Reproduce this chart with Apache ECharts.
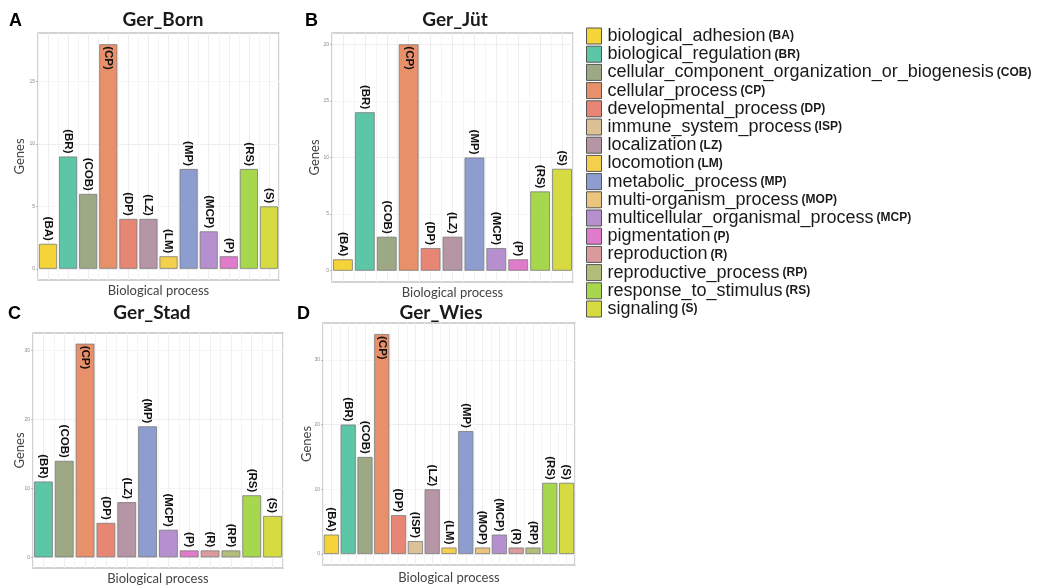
<!DOCTYPE html>
<html>
<head>
<meta charset="utf-8">
<script src="https://cdn.jsdelivr.net/npm/echarts@6/dist/echarts.min.js"></script>
<style>html,body{margin:0;padding:0;background:#fff;}#c{width:1043px;height:586px;}</style>
</head>
<body>
<div id="c"></div>
<script>
// Legend categories
const abbrs = ['BA','BR','COB','CP','DP','ISP','LZ','LM','MP','MOP','MCP','P','R','RP','RS','S'];
const fullNames = ['biological_adhesion','biological_regulation','cellular_component_organization_or_biogenesis','cellular_process','developmental_process','immune_system_process','localization','locomotion','metabolic_process','multi-organism_process','multicellular_organismal_process','pigmentation','reproduction','reproductive_process','response_to_stimulus','signaling'];
const catColors = ['#F5D43A','#5CC6A6','#9CA984','#E8906A','#E88675','#DCC096','#B695A5','#F4CF4C','#8E9DD0','#EBC47E','#B690CE','#E07ACA','#DB9A9E','#B0BE7A','#A6D74C','#D7DB42'];

// Panel A: Ger_Born
const bornCats = ['BA','BR','COB','CP','DP','LZ','LM','MP','MCP','P','RS','S'];
const bornVals = [2,9,6,18,4,4,1,8,3,1,8,5];
const bornTicks = [0,5,10,15];
// Panel B: Ger_Jüt
const jutCats = ['BA','BR','COB','CP','DP','LZ','MP','MCP','P','RS','S'];
const jutVals = [1,14,3,20,2,3,10,2,1,7,9];
const jutTicks = [0,5,10,15,20];
// Panel C: Ger_Stad
const stadCats = ['BR','COB','CP','DP','LZ','MP','MCP','P','R','RP','RS','S'];
const stadVals = [11,14,31,5,8,19,4,1,1,1,9,6];
const stadTicks = [0,10,20,30];
// Panel D: Ger_Wies
const wiesCats = ['BA','BR','COB','CP','DP','ISP','LZ','LM','MP','MOP','MCP','R','RP','RS','S'];
const wiesVals = [3,20,15,34,6,2,10,1,19,1,3,1,1,11,11];
const wiesTicks = [0,10,20,30];

const panelTitles = ['Ger_Born','Ger_Jüt','Ger_Stad','Ger_Wies'];
const panelLetters = ['A','B','C','D'];

const panels = [
  {cats: bornCats, vals: bornVals, ticks: bornTicks, box: {left:38, top:33, width:241, height:247}, title:{x:163,y:10}, letter:{x:9,y:12}, genesGap:12, xGap:4},
  {cats: jutCats, vals: jutVals, ticks: jutTicks, box: {left:332, top:33, width:241, height:249}, title:{x:455,y:10}, letter:{x:305,y:12}, genesGap:11, xGap:4},
  {cats: stadCats, vals: stadVals, ticks: stadTicks, box: {left:33, top:333, width:250, height:235}, title:{x:152,y:303}, letter:{x:8,y:305}, genesGap:7, xGap:4},
  {cats: wiesCats, vals: wiesVals, ticks: wiesTicks, box: {left:323, top:323, width:252, height:242}, title:{x:441,y:303}, letter:{x:297,y:305}, genesGap:10, xGap:6}
];

const PANEL_FONT = 'Lato, "Open Sans", sans-serif';
const grids = [], xAxes = [], yAxes = [], series = [], titles = [];

panels.forEach((p, pi) => {
  const n = p.cats.length;
  const maxV = Math.max(...p.vals);
  const step = p.ticks[1] - p.ticks[0];
  const gridLines = [];
  for (let v = 0; v <= maxV * 1.05; v += step / 2) gridLines.push(v);
  grids.push(Object.assign({show: true, borderColor: '#c4c4c4', borderWidth: 1.5, backgroundColor: '#fff'}, p.box));
  xAxes.push({
    type: 'category', gridIndex: pi, data: p.cats, boundaryGap: true,
    axisLine: {show: false}, axisTick: {show: false}, axisLabel: {show: false},
    splitLine: {show: false},
    name: 'Biological process', nameLocation: 'middle', nameGap: p.xGap, nameMoveOverlap: false,
    nameTextStyle: {fontFamily: PANEL_FONT, fontSize: 13, color: '#444', verticalAlign: 'top'}
  });
  xAxes.push({
    type: 'category', gridIndex: pi, data: new Array(2 * n).fill(''), boundaryGap: true,
    axisLine: {show: false}, axisTick: {show: false}, axisLabel: {show: false},
    splitLine: {show: true, lineStyle: {color: ['#f5f5f5', '#eeeeee'], width: 1}}
  });
  yAxes.push({
    type: 'value', gridIndex: pi, min: -0.05 * maxV, max: 1.05 * maxV,
    axisLine: {show: false},
    axisTick: {show: true, customValues: p.ticks, length: 2, lineStyle: {color: '#999', width: 0.6}},
    axisLabel: {show: true, customValues: p.ticks, fontSize: 5, color: '#8a8a8a', margin: 3},
    splitLine: {show: true, customValues: gridLines, lineStyle: {color: ['#eeeeee', '#f5f5f5'], width: 1}},
    name: 'Genes', nameLocation: 'middle', nameGap: p.genesGap, nameRotate: 90, nameMoveOverlap: false,
    nameTextStyle: {fontFamily: PANEL_FONT, fontSize: 13, color: '#444'}
  });
  p.cats.forEach((ab, ci) => {
    const k = abbrs.indexOf(ab);
    const data = new Array(n).fill('-');
    data[ci] = p.vals[ci];
    const inside = p.vals[ci] === maxV;
    series.push({
      type: 'bar', name: fullNames[k], xAxisIndex: 2 * pi, yAxisIndex: pi, stack: 'panel' + pi,
      barWidth: '90%', data: data,
      itemStyle: {color: catColors[k], borderColor: '#7a7a7a', borderWidth: 0.8},
      label: {
        show: true, formatter: '(' + ab + ')', rotate: -90,
        position: inside ? 'insideTop' : 'top', distance: inside ? 2 : 3,
        align: inside ? 'left' : 'right', verticalAlign: 'middle',
        fontFamily: 'Liberation Sans, Arial, sans-serif', fontWeight: 'bold', fontSize: 11.5, color: '#111'
      },
      emphasis: {disabled: true}, silent: true
    });
  });
  titles.push({text: panelTitles[pi], left: p.title.x, top: p.title.y, textAlign: 'center', padding: 0,
    textStyle: {fontFamily: PANEL_FONT, fontWeight: 'bold', fontSize: 19, color: '#1a1a1a'}});
  titles.push({text: panelLetters[pi], left: p.letter.x, top: p.letter.y, padding: 0,
    textStyle: {fontFamily: 'Liberation Sans, Arial, sans-serif', fontWeight: 'bold', fontSize: 18, color: '#000'}});
});

const rich = {
  n: {fontFamily: 'Liberation Sans, Arial, sans-serif', fontSize: 18, lineHeight: 16, color: '#1a1a1a'},
  a: {fontFamily: 'Liberation Sans, Arial, sans-serif', fontSize: 12, lineHeight: 16, fontWeight: 'bold', color: '#1a1a1a', padding: [0, 0, 0, 3]}
};

const option = {
  animation: false,
  backgroundColor: '#fff',
  title: titles,
  legend: {
    orient: 'vertical', left: 586, top: 27, padding: 0, itemWidth: 15, itemHeight: 16, itemGap: 0.2,
    selectedMode: false, icon: 'rect',
    data: fullNames.map((nm, i) => ({name: nm, itemStyle: {color: catColors[i], borderColor: '#555', borderWidth: 1}})),
    formatter: nm => '{n|' + nm + '}{a|(' + abbrs[fullNames.indexOf(nm)] + ')}',
    textStyle: {rich: rich, lineHeight: 16, padding: [0, 0, 0, 1]}
  },
  grid: grids, xAxis: xAxes, yAxis: yAxes, series: series
};
const chart = echarts.init(document.getElementById('c'), null, {renderer: 'canvas'});
chart.setOption(option);
</script>
</body>
</html>
